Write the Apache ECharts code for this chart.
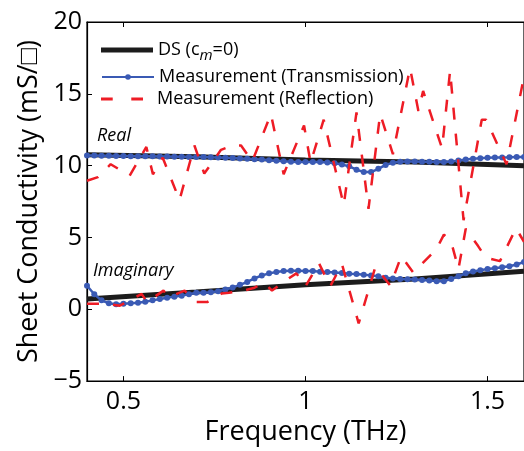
<!DOCTYPE html>
<html>
<head>
<meta charset="utf-8">
<script src="https://cdn.jsdelivr.net/npm/echarts@6/dist/echarts.min.js"></script>
<style>
  html, body { margin: 0; padding: 0; background: #fff; }
  #chart { width: 524px; height: 451px; }
</style>
</head>
<body>
<div id="chart"></div>
<script>
// ============================================================
// Data
// ============================================================

// axis ticks
const xTicks = [0.5, 1, 1.5]
const yTicks = [-5, 0, 5, 10, 15, 20]

// DS model (c_m = 0)
const dsFreq = [0.4, 0.7, 1.0, 1.3, 1.6]
const dsReal = [10.75, 10.62, 10.4, 10.25, 10.0]
const dsImag = [0.72, 1.2, 1.7, 2.1, 2.65]

// transmission measurement, sampled every 0.02 THz
const transFreq = [
  0.40, 0.42, 0.44, 0.46, 0.48, 0.50, 0.52, 0.54, 0.56, 0.58, 0.60,
  0.62, 0.64, 0.66, 0.68, 0.70, 0.72, 0.74, 0.76, 0.78, 0.80,
  0.82, 0.84, 0.86, 0.88, 0.90, 0.92, 0.94, 0.96, 0.98, 1.00,
  1.02, 1.04, 1.06, 1.08, 1.10, 1.12, 1.14, 1.16, 1.18, 1.20,
  1.22, 1.24, 1.26, 1.28, 1.30, 1.32, 1.34, 1.36, 1.38, 1.40,
  1.42, 1.44, 1.46, 1.48, 1.50, 1.52, 1.54, 1.56, 1.58, 1.60
]
const transReal = [
  10.70, 10.70, 10.68, 10.68, 10.67, 10.67, 10.66, 10.66, 10.65, 10.65, 10.64,
  10.63, 10.62, 10.62, 10.61, 10.60, 10.60, 10.58, 10.57, 10.55, 10.53,
  10.50, 10.48, 10.45, 10.42, 10.38, 10.34, 10.30, 10.27, 10.26, 10.26,
  10.26, 10.25, 10.22, 10.17, 10.08, 9.95, 9.72, 9.55, 9.55, 9.78,
  10.05, 10.20, 10.27, 10.28, 10.28, 10.27, 10.27, 10.26, 10.26, 10.28,
  10.35, 10.42, 10.48, 10.52, 10.55, 10.56, 10.57, 10.58, 10.60, 10.60
]
const transImag = [
  1.64, 1.05, 0.62, 0.42, 0.35, 0.38, 0.42, 0.46, 0.52, 0.62, 0.72,
  0.80, 0.88, 0.95, 1.05, 1.15, 1.15, 1.18, 1.25, 1.38, 1.52,
  1.70, 1.90, 2.15, 2.35, 2.50, 2.60, 2.66, 2.68, 2.68, 2.67,
  2.66, 2.62, 2.60, 2.56, 2.52, 2.48, 2.45, 2.41, 2.36, 2.30,
  2.20, 2.14, 2.10, 2.09, 2.07, 2.04, 2.00, 1.96, 1.96, 2.10,
  2.30, 2.50, 2.63, 2.72, 2.80, 2.86, 2.93, 3.00, 3.12, 3.30
]

// reflection measurement (turning points of the dashed trace)
const reflRealFreq = [
  0.40, 0.43, 0.465, 0.517, 0.563, 0.581, 0.608, 0.654, 0.695, 0.722,
  0.768, 0.80, 0.823, 0.854, 0.905, 0.94, 0.996, 1.014, 1.05, 1.105,
  1.14, 1.173, 1.205, 1.24, 1.287, 1.31, 1.323, 1.375, 1.397, 1.434,
  1.484, 1.496, 1.552, 1.60
]
const reflRealVal = [
  8.95, 9.2, 10.1, 9.3, 11.3, 9.4, 10.55, 7.6, 11.4, 9.45,
  11.1, 11.4, 11.4, 10.3, 13.6, 9.4, 12.8, 10.2, 13.2, 7.24,
  13.7, 7.0, 13.6, 10.8, 16.8, 13.8, 15.2, 11.2, 16.6, 6.2,
  13.2, 13.2, 10.1, 16.2
]
const reflImagFreq = [
  0.40, 0.45, 0.49, 0.55, 0.565, 0.61, 0.625, 0.668, 0.70, 0.73,
  0.77, 0.79, 0.83, 0.86, 0.886, 0.908, 0.945, 0.975, 1.0, 1.037,
  1.068, 1.10, 1.146, 1.192, 1.233, 1.263, 1.296, 1.36, 1.38, 1.40,
  1.42, 1.44, 1.46, 1.474, 1.495, 1.534, 1.578, 1.60
]
const reflImagVal = [
  0.39, 0.39, 0.25, 1.07, 0.5, 1.3, 0.84, 1.3, 0.5, 0.5,
  1.1, 1.15, 1.3, 1.5, 1.87, 1.3, 2.0, 2.5, 1.6, 3.2,
  1.6, 3.15, -0.98, 2.96, 1.64, 3.7, 2.56, 4.2, 5.2, 4.7,
  2.8, 5.6, 4.9, 4.4, 3.6, 3.35, 5.64, 4.7
]

// ============================================================
// Helpers
// ============================================================
const zip = (xs, ys) => xs.map((x, i) => [x, ys[i]])

const FONT = '"Open Sans", "Noto Sans", sans-serif'
const BLACK = '#1c1c1c'
const BLUE = '#3a5ab4'
const RED = '#ee1c25'

const DS_NAME = 'DS'
const TRANS_NAME = 'Measurement (Transmission)'
const REFL_NAME = 'Measurement (Reflection)'

// two short dashes, used as the legend icon of the reflection trace
const DASH_ICON = 'path://M0,0H12V3H0Z M31,0H43V3H31Z'

function dsSeries(data, label, coord) {
  return {
    name: DS_NAME,
    type: 'line',
    data: data,
    showSymbol: false,
    symbol: 'none',
    lineStyle: { color: BLACK, width: 5 },
    itemStyle: { color: BLACK },
    z: 2,
    markPoint: {
      symbol: 'circle',
      symbolSize: 0,
      label: {
        show: true,
        position: 'inside',
        formatter: label,
        fontFamily: FONT,
        fontStyle: 'italic',
        fontSize: 18,
        color: '#000'
      },
      data: [{ coord: coord }]
    }
  }
}

function transSeries(data) {
  return {
    name: TRANS_NAME,
    type: 'line',
    data: data,
    symbol: 'circle',
    symbolSize: 6,
    showSymbol: true,
    lineStyle: { color: BLUE, width: 2.5 },
    itemStyle: { color: BLUE },
    z: 3
  }
}

function reflSeries(data) {
  return {
    name: REFL_NAME,
    type: 'line',
    data: data,
    showSymbol: false,
    symbol: 'none',
    lineStyle: { color: RED, width: 2.5, type: [12, 14] },
    itemStyle: { color: RED },
    z: 4
  }
}

function legendRow(name, top, opts) {
  return Object.assign({
    data: [name],
    left: 101,
    top: top,
    padding: 0,
    itemWidth: 52,
    itemHeight: 14,
    selectedMode: false,
    textStyle: {
      fontFamily: FONT,
      fontSize: 18,
      color: '#000',
      rich: {
        n: { fontFamily: FONT, fontSize: 18, color: '#000' },
        s: { fontFamily: FONT, fontSize: 15, fontStyle: 'italic', color: '#000', padding: [12, 0, 0, 0] }
      }
    }
  }, opts)
}

// ============================================================
// Chart
// ============================================================
const chart = echarts.init(document.getElementById('chart'), null, { renderer: 'canvas' })

const tickText = { fontFamily: FONT, fontSize: 25, color: '#000' }
const titleText = { fontFamily: FONT, fontSize: 27, color: '#000' }
const minus = v => String(v).replace('-', '\u2212')

const option = {
  animation: false,
  backgroundColor: '#fff',
  grid: {
    left: 87,
    right: -2,
    top: 22,
    bottom: 64,
    show: true,
    borderColor: '#000',
    borderWidth: 1.2
  },
  legend: [
    legendRow(DS_NAME, 41, {
      icon: 'rect',
      itemHeight: 5,
      formatter: () => '{n|DS (c}{s|m}{n|=0)}'
    }),
    legendRow(TRANS_NAME, 68, { itemHeight: 7 }),
    legendRow(REFL_NAME, 90, {
      icon: DASH_ICON,
      itemWidth: 42,
      itemHeight: 3,
      formatter: n => '{g|}' + '{n|' + n + '}',
      textStyle: {
        fontFamily: FONT,
        fontSize: 18,
        color: '#000',
        rich: {
          g: { width: 9 },
          n: { fontFamily: FONT, fontSize: 18, color: '#000' }
        }
      }
    })
  ],
  xAxis: [
    {
      type: 'value',
      min: 0.4,
      max: 1.6,
      name: 'Frequency (THz)',
      nameLocation: 'middle',
      nameGap: 35,
      nameTextStyle: titleText,
      axisLine: { show: true, onZero: false, lineStyle: { color: '#000', width: 1.2 } },
      axisTick: { show: true, inside: true, length: 5, lineStyle: { color: '#000' }, customValues: xTicks },
      axisLabel: Object.assign({ margin: 8, customValues: xTicks }, tickText),
      splitLine: { show: false }
    },
    {
      type: 'value',
      position: 'top',
      min: 0.4,
      max: 1.6,
      axisLine: { show: true, onZero: false, lineStyle: { color: '#000', width: 1.2 } },
      axisTick: { show: true, inside: true, length: 5, lineStyle: { color: '#000' }, customValues: xTicks },
      axisLabel: { show: false },
      splitLine: { show: false }
    }
  ],
  yAxis: {
    type: 'value',
    min: -5,
    max: 20,
    interval: 5,
    name: 'Sheet Conductivity (mS/□)',
    nameLocation: 'middle',
    nameGap: 43,
    nameTextStyle: titleText,
    axisLine: { show: true, onZero: false, lineStyle: { color: '#000', width: 1.2 } },
    axisTick: { show: true, inside: true, length: 5, lineStyle: { color: '#000' }, customValues: yTicks },
    axisLabel: Object.assign({ margin: 5, customValues: yTicks, formatter: minus }, tickText),
    splitLine: { show: false }
  },
  series: [
    dsSeries(zip(dsFreq, dsReal), 'Real', [0.474, 12.05]),
    dsSeries(zip(dsFreq, dsImag), 'Imaginary', [0.527, 2.67]),
    transSeries(zip(transFreq, transReal)),
    transSeries(zip(transFreq, transImag)),
    reflSeries(zip(reflRealFreq, reflRealVal)),
    reflSeries(zip(reflImagFreq, reflImagVal))
  ]
}

chart.setOption(option)
</script>
</body>
</html>
